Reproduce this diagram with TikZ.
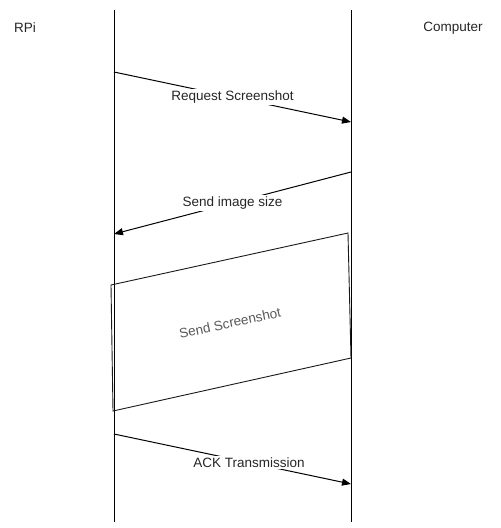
\documentclass[tikz,border=0pt]{standalone}
\usepackage{fontspec}
\setmainfont{Liberation Sans}
\usepackage{xcolor}
\usepackage{tikz}
\usetikzlibrary{arrows.meta, positioning, calc}
\tikzset{
  actor/.style={font=\fontsize{13.5}{16}\selectfont, text=black!85, inner sep=0pt},
  lifeline/.style={line width=1pt, black},
  msg/.style={-{Triangle[length=9pt,width=7pt]}, line width=1pt, black},
  msglabel/.style={fill=white, inner sep=1.5pt, font=\fontsize{13.5}{16}\selectfont, text=black!85},
  transfer/.style={draw=black!90, line width=0.9pt},
  transferlabel/.style={font=\fontsize{13.5}{16}\selectfont, text=black!65, rotate=12}
}
\begin{document}
\begin{tikzpicture}[x=1pt, y=-1pt]
  \useasboundingbox (0,0) rectangle (501,528);

  % Actors
  \node[actor] (rpi) at (25,28) {RPi};
  \node[actor] (computer) at (453,28) {Computer};

  % Lifelines
  \coordinate (rpi-top) at (114,10);
  \coordinate (rpi-bot) at (114,522);
  \coordinate (pc-top) at (351,10);
  \coordinate (pc-bot) at (351,522);
  \draw[lifeline] (rpi-top) -- (rpi-bot);
  \draw[lifeline] (pc-top) -- (pc-bot);

  % Request
  \coordinate (req-a) at (114,72);
  \coordinate (req-b) at (351,122);
  \draw[msg] (req-a) -- node[msglabel] (req) {Request Screenshot} (req-b);

  % Image size
  \coordinate (size-a) at (351,172);
  \coordinate (size-b) at (114,234);
  \draw[msg] (size-a) -- node[msglabel] (size) {Send image size} (size-b);

  % Screenshot transfer
  \coordinate (shot-tl) at (111,285);
  \coordinate (shot-tr) at (348,233);
  \coordinate (shot-br) at (351,358);
  \coordinate (shot-bl) at (113,411);
  \draw[transfer] (shot-tl) -- (shot-tr) -- (shot-br) -- (shot-bl) -- cycle;
  \node[transferlabel] (shot) at (230,323) {Send Screenshot};

  % ACK
  \coordinate (ack-a) at (114,434);
  \coordinate (ack-b) at (351,484);
  \draw[msg] (ack-a) -- node[msglabel, pos=0.57] (ack) {ACK Transmission} (ack-b);
\end{tikzpicture}
\end{document}
